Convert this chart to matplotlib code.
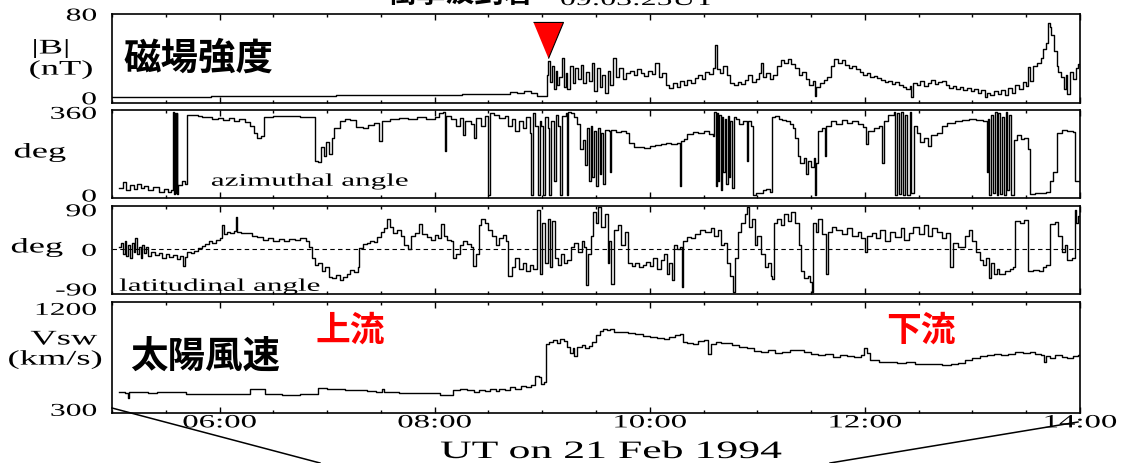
import matplotlib
matplotlib.use("Agg")
import matplotlib.pyplot as plt
from matplotlib import patheffects
from matplotlib.lines import Line2D
from matplotlib.ticker import FixedLocator, MultipleLocator
from matplotlib.transforms import Affine2D

# all times are minutes after 05:00 UT, 21 Feb 1994
SHOCK_MIN = 243.0

# |B| in nT
B_TRACE = [
    (0, 0.8), (10, 0.6), (20, 0.9), (30, 1.2), (40, 1.0), (55, 1.5), (70, 1.3),
    (90, 1.6), (110, 1.4), (125, 2.5), (140, 2.8), (155, 2.4), (170, 2.7),
    (185, 2.9), (195, 3.5), (205, 3.2), (215, 4.0), (222, 5.5), (226, 4.5),
    (230, 6.0), (234, 5.0), (237, 1.5), (240, 2.0),
    (242.5, 22), (243.5, 35), (244.5, 15), (245.5, 30), (246.5, 8), (247.5, 26),
    (248.5, 12), (249.5, 20), (251, 38), (252, 10), (253, 24), (254, 8),
    (255.5, 30), (257, 14), (258.5, 28), (260, 18), (261.5, 31), (263, 14),
    (264.5, 25), (266, 16), (267.5, 33), (269, 6), (270.5, 28), (272, 10),
    (273.5, 22), (275, 5), (276.5, 26), (278, 12), (279.5, 38), (281, 20),
    (283, 28), (285, 18), (287, 24), (289, 26), (291, 22), (293, 27), (295, 24),
    (297, 21), (299, 26), (301, 23), (303, 33), (305, 20), (307, 24), (309, 12),
    (311, 9), (313, 14), (315, 10), (317, 16), (319, 12), (321, 17), (323, 14),
    (325, 19), (327, 22), (329, 18), (331, 25), (333, 23), (335, 28),
    (336.5, 50), (337.5, 27), (339, 24), (341, 30), (343, 22), (345, 14),
    (347, 12), (349, 15), (351, 13), (353, 17), (355, 22), (357, 15), (359, 18),
    (361, 24), (362, 33), (363, 20), (365, 24), (367, 18), (369, 22), (371, 30),
    (373, 36), (375, 33), (377, 37), (379, 32), (381, 28), (383, 22), (385, 25),
    (387, 18), (389, 12), (391, 16), (392, 2), (393, 10), (395, 14), (397, 17),
    (399, 20), (401, 30), (403, 37), (405, 33), (407, 36), (409, 31), (411, 28),
    (413, 30), (415, 27), (417, 25), (419, 22), (421, 24), (423, 20), (425, 21),
    (427, 19), (429, 17), (431, 15), (433, 16), (435, 13), (437, 15), (439, 12),
    (441, 10), (443, 8), (445, 11), (446, 1), (447, 14), (449, 12), (451, 16),
    (453, 11), (455, 14), (457, 17), (459, 13), (461, 15), (463, 16), (465, 12),
    (467, 9), (469, 11), (471, 8), (473, 10), (475, 7), (477, 9), (479, 6),
    (481, 8), (483, 5), (485, 7), (487, 0.5), (488, 5), (490, 3), (492, 6),
    (494, 4), (496, 7), (498, 3), (500, 9), (502, 5), (504, 12), (506, 8),
    (508, 15), (510, 11), (511, 29), (512, 16), (514, 30), (516, 33), (518, 38),
    (519.5, 47), (521, 52), (522, 71), (523, 68), (524, 60), (525.5, 45),
    (527, 30), (528, 25), (529.5, 20), (531, 8), (532, 22), (533, 4),
    (534.5, 25), (536, 18), (537.5, 28), (539, 32), (540, 30),
]

# azimuthal angle of B, degrees
AZ_TRACE = [
    (3.8, 30), (6, 55), (8, 20), (10, 45), (12, 25), (14, 50), (16, 30), (18, 40),
    (20, 22), (23, 35), (26, 15), (29, 28), (31, 12), (33, 20), (34, 360),
    (34.5, 5), (35, 358), (35.5, 8), (36, 355), (36.5, 3), (37, 45), (39, 60),
    (41, 50), (42, 350), (45, 348), (48, 345), (50, 340), (53, 338), (56, 330),
    (59, 335), (62, 325), (65, 335), (68, 320), (71, 333), (74, 318), (77, 300),
    (79, 270), (81, 250), (83, 255), (85, 340), (90, 345), (95, 342), (100, 346),
    (105, 340), (110, 338), (113, 150), (115, 145), (116.5, 210), (118, 170),
    (119.5, 230), (121, 180), (122.5, 250), (124, 290), (127, 320), (130, 330),
    (133, 325), (136, 295), (140, 290), (143, 305), (146, 315), (149, 235),
    (150.5, 320), (155, 330), (160, 335), (165, 330), (170, 338), (175, 332),
    (180, 340), (182.5, 358), (184.5, 360), (185.5, 190), (186.5, 345),
    (189, 330), (192, 300), (194, 335), (196, 260), (197, 320), (200, 310),
    (202, 250), (203, 335), (206, 300), (208, 345), (210, 0), (210.7, 355),
    (213, 350), (216, 335), (219, 345), (221, 300), (223, 330), (225, 280),
    (227, 320), (229, 290), (231, 340), (233, 270), (234, 0), (235, 355),
    (236, 300), (237.5, 0), (238.5, 320), (239.5, 300), (240.5, 0), (241.5, 340),
    (243, 290), (244, 0), (245, 320), (246.5, 60), (247.5, 350), (249, 300),
    (250, 0), (251, 345), (253, 355), (254, 0), (254.5, 360), (256, 355),
    (258, 340), (259.5, 310), (261, 200), (263, 240), (264, 130), (265, 290),
    (266, 60), (267, 300), (268, 80), (269, 280), (270, 40), (271, 290),
    (272, 90), (273, 270), (274, 50), (275, 285), (277, 280), (278, 100),
    (278.5, 285), (281, 275), (284, 280), (287, 270), (288.5, 225), (291, 210),
    (294, 208), (297, 206), (300, 212), (303, 218), (306, 222), (309, 225),
    (312, 220), (315, 228), (317, 40), (317.5, 235), (319, 245), (321, 265),
    (324, 275), (327, 270), (330, 280), (333, 265), (335, 255), (336, 360),
    (336.7, 40), (337.4, 355), (338.1, 60), (338.8, 350), (339.5, 20),
    (340.2, 340), (341, 100), (341.8, 330), (342.6, 50), (343.4, 345),
    (344.2, 80), (345, 320), (346, 30), (347, 340), (348, 330), (350, 310),
    (352, 320), (354, 150), (355, 320), (356.5, 300), (357.5, 0), (359, 10),
    (361, 8), (363, 20), (365, 25), (367, 15), (368, 340), (370, 345), (372, 330),
    (374, 325), (376, 320), (378, 310), (380, 290), (381, 250), (382.5, 170),
    (384, 140), (386, 160), (387, 90), (388, 150), (390, 120), (391.5, 160),
    (392, 0), (392.5, 140), (394, 280), (396, 290), (397.5, 170), (398.5, 300),
    (401, 320), (404, 310), (407, 325), (410, 315), (413, 320), (416, 310),
    (419, 295), (420.5, 220), (422, 280), (425, 290), (428, 300), (429.5, 140),
    (430.5, 320), (433, 350), (436, 360), (437, 0), (438, 355), (439, 5),
    (440, 360), (441, 0), (442.5, 350), (443.5, 0), (445, 360), (446, 10),
    (447.5, 300), (449, 270), (451, 230), (453, 250), (455, 215), (457, 260),
    (460, 270), (463, 300), (466, 315), (470, 320), (474, 325), (478, 330),
    (482, 325), (486, 320), (488, 100), (488.5, 330), (489.5, 0), (490.5, 350),
    (491.5, 10), (492.5, 360), (493.5, 0), (494.5, 355), (495.5, 5), (496.5, 340),
    (497.5, 0), (498.5, 360), (499.5, 20), (500.5, 350), (501.5, 0), (503, 240),
    (505, 260), (507, 245), (509, 250), (511, 200), (512, 5), (515, 8), (518, 10),
    (521, 15), (523, 60), (525, 100), (527, 270), (530, 285), (533, 280),
    (536, 275), (537, 60), (540, 55),
]

# latitudinal angle of B, degrees
LAT_TRACE = [
    (3.8, 5), (5, 15), (6, -10), (7, 20), (8, -15), (9, 10), (10, -20), (11, 15),
    (12, -5), (13, 25), (14, -10), (15, 5), (16, -20), (17, 10), (18, -8),
    (19, 5), (20, -15), (22, -5), (24, -12), (26, -8), (28, -20), (30, -10),
    (32, -18), (34, -12), (36, -22), (38, -15), (39.5, -38), (40.5, -18),
    (42, -5), (44, -8), (46, -3), (48, 2), (50, 8), (52, 12), (54, 18), (56, 15),
    (58, 22), (60, 26), (61.3, 55), (62.5, 35), (64, 40), (66, 38), (68, 42),
    (69.3, 74), (70, 40), (72, 36), (75, 38), (78, 30), (81, 28), (84, 22),
    (87, 25), (90, 20), (93, 23), (96, 18), (99, 24), (102, 22), (105, 26),
    (108, 20), (110, 5), (111.5, -20), (113, -35), (115, -30), (117, -50),
    (119, -40), (121, -62), (123, -65), (125, -58), (127, -70), (129, -62),
    (131, -55), (133, -48), (135, -52), (137, -40), (138, 2), (140, 12),
    (142, 15), (144, 20), (146, 16), (148, 28), (150, 40), (152, 48),
    (153.6, 68), (155, 50), (157, 38), (159, 45), (161, 30), (163, 10), (165, 0),
    (167, 30), (169, 38), (171.5, 58), (173, 34), (176, 28), (178, 22), (180, 33),
    (182, 25), (183.5, 58), (185, 30), (187, 22), (189, 18), (190.5, -20),
    (192, -10), (194, 10), (196, 18), (198, 12), (200, 5), (201.5, -38),
    (203, -10), (204.5, 55), (206, 70), (208, 60), (210, 45), (212, 30), (214, 10),
    (216, 25), (218, 32), (220, 20), (221, -60), (223, -40), (225, -20),
    (227, -45), (229, -30), (231, -50), (233, -35), (235, -45), (237, 90),
    (238.5, -55), (240, 60), (241.5, -30), (243, 70), (244.5, -40), (245.5, 65),
    (247, -20), (249, -35), (250.7, -10), (252, -30), (254, -25), (256, 5),
    (258, 15), (260, -5), (262, 20), (263.5, 5), (264.5, -80), (265.5, -10),
    (267, 30), (268.5, 85), (270, 60), (271.3, 95), (273, 50), (275, 80),
    (276.5, -30), (277.5, 20), (278.5, -78), (280, 45), (282, 55), (284, 10),
    (286, 40), (288, -30), (290, -38), (292, -32), (294, -40), (296, -35),
    (298, -28), (300, -38), (302, -20), (304, -45), (306, -25), (308, -10),
    (309.5, -55), (311, -30), (312.6, -70), (313.5, 10), (315, 0), (317, 5),
    (317.8, -85), (318.5, 20), (321, 28), (323, 25), (325, 35), (328, 45),
    (331, 40), (334, 48), (336, 30), (338, 45), (340, 10), (341.6, 15),
    (343, -30), (345, -60), (346.5, -98), (347.7, -20), (349, 40), (351, 60),
    (353, 80), (354, 97), (355.5, 50), (357, 70), (358.5, 10), (360, 30),
    (362, -10), (364, -40), (366, -30), (367.5, -60), (368.4, -68), (369.5, 60),
    (371, 70), (373, 55), (375, 80), (377, 65), (379, 85), (381, 60), (383, 10),
    (384.5, -50), (386, -65), (388, -60), (389.5, -75), (390.5, -98),
    (391.2, 60), (392.5, 40), (394, 70), (396, 35), (398.3, -55), (399.5, 40),
    (401.4, 50), (404, 45), (407, 35), (410, 48), (413, 30), (416, 40), (418, 25),
    (420, -7), (421, 30), (424, 38), (426, 25), (428.3, 45), (431, 20), (434, 40),
    (437, 28), (440, 48), (442, 22), (444.8, 38), (447, 50), (450, 35), (453, 55),
    (455, 30), (457.2, 48), (460, 40), (463, 25), (465, 38), (467.5, -40),
    (469, 15), (472, 5), (475.8, 30), (478, 45), (480, 20), (482, -5),
    (484, -25), (486, -35), (487.5, -20), (489, -65), (490.5, -30), (492, -55),
    (493.5, -45), (495, -55), (498, -50), (501, -45), (502.6, -40), (504, 65),
    (506.8, 60), (509, 66), (510.9, -50), (514, -48), (517, -50), (519.1, -40),
    (521, -35), (523.3, 58), (526, 62), (528, 30), (530, -5), (531.5, 10),
    (533, -25), (535.7, -20), (537, 90), (538, 60), (539, 75), (540, 75),
]

# solar wind speed, km/s
VSW_TRACE = [
    (3.8, 450), (7, 448), (8.8, 405), (9.5, 450), (15, 452), (20, 449),
    (25, 451), (30, 450), (35, 453), (41.5, 435), (50, 436), (55, 434),
    (61, 440), (65, 438), (70, 436), (77, 482), (82, 478), (85.2, 435),
    (95, 432), (105, 435), (113, 440), (115, 490), (120, 485), (125, 478),
    (130, 475), (137, 470), (142, 460), (147, 455), (150.6, 480), (151.5, 452),
    (160, 448), (170, 445), (180, 443), (183, 430), (187, 428), (190, 470),
    (194, 480), (198, 470), (202, 455), (205, 475), (208, 460), (211, 478),
    (214, 465), (216, 485), (219, 470), (222, 495), (225, 480), (228, 505),
    (231, 495), (234, 520), (236, 600), (238, 585), (239.5, 530), (241, 545),
    (242.3, 880), (244, 900), (246, 920), (248, 890), (250, 930), (252, 910),
    (254, 860), (255.5, 800), (257, 850), (258, 775), (259.5, 860), (262, 870),
    (264, 850), (266, 865), (268, 900), (270, 960), (272, 1000), (274, 1020),
    (276, 1005), (278, 1015), (280, 990), (284, 985), (288, 980), (292, 975),
    (296, 955), (300, 945), (304, 935), (308, 925), (311, 945), (314, 960),
    (317, 975), (318.5, 900), (321, 890), (324, 880), (327, 905), (330, 920),
    (332.5, 795), (334, 880), (337, 900), (340, 890), (343, 895), (346, 870),
    (350, 855), (354, 845), (358, 820), (362, 815), (366, 825), (370, 805),
    (374, 815), (378, 830), (382, 825), (386, 815), (390, 795), (394, 785),
    (398, 790), (402, 770), (406, 785), (410, 775), (414, 770), (418, 780),
    (419.5, 845), (421, 800), (423, 740), (428, 725), (433, 720), (438, 715),
    (443, 718), (448, 705), (453, 700), (458, 702), (463, 698), (468, 700),
    (472, 710), (476, 740), (480, 760), (484, 775), (488, 785), (492, 790),
    (496, 785), (500, 795), (504, 810), (508, 805), (512, 815), (515, 795),
    (518, 780), (520, 720), (521, 775), (523, 760), (526, 780), (530, 770),
    (533, 760), (536, 775), (539, 785), (540, 790),
]

HOUR_TICKS = [6, 8, 10, 12, 14]
HOUR_LABELS = ["06:00", "08:00", "10:00", "12:00", "14:00"]

W, H = 1122, 463
SERIF = "Liberation Serif"
CJK = ["Noto Sans CJK JP", "DejaVu Sans"]
WIDE = 1.75


class Widen(patheffects.AbstractPathEffect):
    """Draw a text's glyphs stretched sideways about its anchor point."""

    def __init__(self, text, sx):
        super().__init__()
        self.text = text
        self.sx = sx

    def draw_path(self, renderer, gc, tpath, affine, rgbFace=None):
        x0 = self.text.get_transform().transform(self.text.get_unitless_position())[0]
        stretch = Affine2D().translate(-x0, 0).scale(self.sx, 1).translate(x0, 0)
        renderer.draw_path(gc, tpath, affine + stretch, rgbFace)


def widen(t, sx=WIDE):
    t.set_path_effects([Widen(t, sx)])
    return t


def fx(x):
    return x / W


def fy(y):
    return 1 - y / H


def split(trace):
    hours = [5 + m / 60 for m, _ in trace]
    vals = [v for _, v in trace]
    return hours, vals


def panel(fig, top, bottom, left=112, right=1080):
    return fig.add_axes([fx(left), fy(bottom), (right - left) / W, (bottom - top) / H])


def style(ax, ylim, yticks, ylabels):
    ax.set_xlim(5, 14)
    ax.set_ylim(*ylim)
    ax.xaxis.set_major_locator(FixedLocator(HOUR_TICKS))
    ax.xaxis.set_minor_locator(MultipleLocator(0.5))
    ax.tick_params(axis="x", which="both", direction="in", top=True, bottom=True,
                   labelbottom=False, width=1.0, color="black")
    ax.tick_params(axis="x", which="major", length=4.5)
    ax.tick_params(axis="x", which="minor", length=2.5)
    ax.set_yticks(yticks)
    labs = ax.set_yticklabels(ylabels, fontfamily=SERIF, fontsize=13)
    ax.tick_params(axis="y", length=0, pad=11)
    for lab in labs:
        widen(lab)
    for sp in ax.spines.values():
        sp.set_linewidth(1.2)


def trace(ax, data):
    t, v = split(data)
    ax.plot(t, v, color="black", lw=1.0, drawstyle="steps-post")


fig = plt.figure(figsize=(W / 100, H / 100), dpi=100)

ax1 = panel(fig, 14, 103)
ax2 = panel(fig, 110, 198)
ax3 = panel(fig, 206, 294)
ax4 = panel(fig, 302, 413)

style(ax1, (-5, 80), [0, 80], ["0", "80"])
style(ax2, (-13, 370), [0, 360], ["0", "360"])
style(ax3, (-101.5, 98.4), [-90, 0, 90], ["-90", "0", "90"])
style(ax4, (267, 1257), [300, 1200], ["300", "1200"])

trace(ax1, B_TRACE)
trace(ax2, AZ_TRACE)
trace(ax3, LAT_TRACE)
trace(ax4, VSW_TRACE)
ax3.axhline(0, color="black", lw=0.8, ls=(0, (4, 3)), zorder=1)

# shock arrival marker
ax1.plot([5 + SHOCK_MIN / 60], [55], marker=[(-0.83, 1), (0.83, 1), (0, -1)],
         ms=26, mfc="red", mec="black", mew=0.8, clip_on=False, zorder=5)

# time axis on the bottom panel only
ax4.tick_params(axis="x", labelbottom=True, pad=1)
for lab in ax4.set_xticklabels(HOUR_LABELS, fontfamily=SERIF, fontsize=13.5):
    widen(lab)

# y axis captions
for x, y, s in [(51, 49, "|B|"), (61, 70, "(nT)"), (40, 153, "deg"),
                (37, 248, "deg"), (64, 340, "Vsw"), (55, 360, "(km/s)")]:
    widen(fig.text(fx(x), fy(y), s, ha="center", va="center",
                   fontfamily=SERIF, fontsize=15))

widen(fig.text(fx(611), fy(452), "UT on 21 Feb 1994", ha="center", va="center",
               fontfamily=SERIF, fontsize=18))
widen(ax2.text(5 + (310 - 112) / 107.6, 60, "azimuthal angle", ha="center",
               va="center", fontfamily=SERIF, fontsize=12.8))
widen(ax3.text(5 + (220 - 112) / 107.6, -84, "latitudinal angle", ha="center",
               va="center", fontfamily=SERIF, fontsize=12.8))

# panel titles
fig.text(fx(123), fy(58), "磁場強度", ha="left", va="center",
         family=CJK, fontweight="bold", fontsize=27)
fig.text(fx(130), fy(356), "太陽風速", ha="left", va="center",
         family=CJK, fontweight="bold", fontsize=27)
fig.text(fx(350), fy(330), "上流", ha="center", va="center", color="red",
         family=CJK, fontweight="bold", fontsize=25)
fig.text(fx(921), fy(330), "下流", ha="center", va="center", color="red",
         family=CJK, fontweight="bold", fontsize=25)

# caption running off the top edge
fig.text(fx(388), fy(2), "衝撃波到着", ha="left", va="baseline",
         family=CJK, fontweight="bold", fontsize=21)
widen(fig.text(fx(560), fy(5), "09:03:25UT", ha="left", va="baseline",
               fontfamily=SERIF, fontsize=13))

# zoom lines to the overview plot below
fig.add_artist(Line2D([fx(112), fx(320)], [fy(408), fy(463)], color="black",
                      lw=1.1, transform=fig.transFigure))
fig.add_artist(Line2D([fx(1078), fx(830)], [fy(422), fy(463)], color="black",
                      lw=1.1, transform=fig.transFigure))

fig.savefig("out.png", dpi=100, facecolor="white")
